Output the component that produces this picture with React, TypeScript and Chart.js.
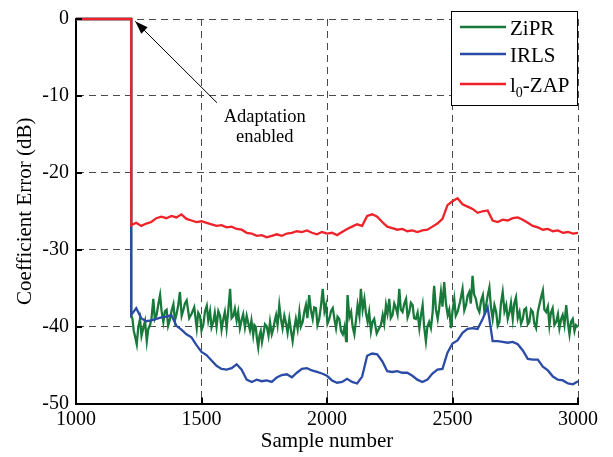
import { useEffect, useRef } from "react";
import { Chart, registerables } from "chart.js";

Chart.register(...registerables);

const FONT = "'Liberation Serif', 'Times New Roman', serif";

const X_MIN = 1000;
const X_MAX = 3000;
const X_STEP = 500;
const Y_MIN = -50;
const Y_MAX = 0;
const Y_STEP = 10;

const X_TITLE = "Sample number";
const Y_TITLE = "Coefficient Error (dB)";

// Before adaptation is enabled every algorithm sits at 0 dB
const PRE_SAMPLES = [1000, 1220];
const PRE_VALUES = [0, 0];

// IRLS and l0-ZAP are read every 20 samples from 1220 to 3000
const GRID_SAMPLES = Array.from({ length: 90 }, (_, i) => 1220 + 20 * i);

const ZAP_VALUES = [
  -26.8, -26.5, -26.9, -26.6, -26.4, -25.9, -25.7, -25.9, -25.6, -25.8,
  -25.4, -26.0, -26.2, -26.4, -26.3, -26.5, -26.7, -26.9, -26.8, -27.1,
  -27.0, -27.3, -27.4, -27.8, -27.9, -28.2, -28.1, -28.4, -28.2, -28.0,
  -28.2, -27.9, -27.8, -27.6, -27.7, -27.5, -27.8, -28.0, -27.7, -27.9,
  -27.8, -28.1, -27.7, -27.3, -27.0, -26.7, -26.9, -25.6, -25.4, -25.7,
  -26.4, -27.0, -27.2, -27.4, -27.3, -27.6, -27.5, -27.7, -27.5, -27.4,
  -27.0, -26.6, -26.0, -24.2, -23.7, -23.3, -24.1, -24.4, -24.7, -25.2,
  -25.0, -24.9, -26.2, -26.4, -26.1, -26.2, -25.9, -25.8, -26.1, -26.5,
  -26.9, -27.1, -27.4, -27.3, -27.6, -27.5, -27.8, -27.7, -27.9, -27.8,
];

const IRLS_VALUES = [
  -38.5, -37.6, -38.9, -39.3, -39.2, -39.0, -38.8, -38.7, -38.5, -39.9,
  -40.4, -41.0, -41.4, -42.4, -43.3, -43.7, -44.4, -45.1, -45.5, -45.6,
  -45.4, -44.9, -45.6, -46.9, -47.2, -46.9, -47.1, -47.0, -47.2, -46.6,
  -46.3, -46.2, -46.6, -46.0, -45.5, -45.4, -45.7, -45.9, -46.1, -46.4,
  -47.0, -47.3, -47.2, -46.8, -47.2, -47.4, -46.5, -43.8, -43.5, -43.6,
  -44.5, -45.8, -45.9, -45.8, -46.0, -46.0, -46.4, -46.9, -47.2, -46.9,
  -46.1, -45.6, -45.5, -43.4, -42.2, -41.8, -40.8, -40.3, -40.2, -40.3,
  -39.0, -37.5, -41.9, -41.9, -42.0, -42.1, -42.0, -42.3, -43.1, -44.2,
  -44.3, -44.3, -45.2, -45.7, -46.5, -46.9, -47.0, -47.4, -47.5, -47.1,
];

// ZiPR is noisy: [sample, dB] read at its visible peaks, dips and between them
const ZIPR_READINGS: [number, number][] = [
  [1220, -38.5], [1225, -39.0], [1230, -40.5], [1236, -41.4], [1242, -42.3], [1248, -40.1],
  [1255, -39.0], [1261, -41.2], [1268, -40.2], [1275, -39.3], [1282, -41.9], [1288, -40.3],
  [1295, -39.8], [1301, -38.9], [1308, -36.4], [1314, -39.0], [1321, -38.5], [1328, -37.1],
  [1335, -35.9], [1341, -38.0], [1348, -39.4], [1354, -38.0], [1361, -37.8], [1367, -39.9],
  [1374, -39.1], [1381, -37.9], [1388, -37.1], [1394, -39.2], [1401, -38.3], [1407, -37.3],
  [1414, -35.5], [1421, -38.6], [1428, -37.8], [1434, -37.0], [1441, -36.6], [1451, -38.9],
  [1461, -38.3], [1471, -37.5], [1481, -40.2], [1487, -38.2], [1494, -38.6], [1500, -40.5],
  [1507, -39.8], [1514, -38.0], [1521, -37.3], [1527, -39.2], [1534, -38.0], [1540, -40.1],
  [1547, -39.4], [1553, -38.2], [1560, -40.0], [1567, -38.0], [1574, -38.6], [1580, -40.4],
  [1587, -39.0], [1593, -38.1], [1600, -40.2], [1607, -37.8], [1614, -35.1], [1620, -38.9],
  [1627, -38.6], [1633, -37.7], [1640, -39.2], [1646, -38.1], [1653, -40.2], [1660, -39.1],
  [1666, -38.4], [1673, -40.1], [1680, -38.6], [1686, -39.5], [1693, -40.5], [1699, -39.2],
  [1706, -41.1], [1711, -39.8], [1716, -40.0], [1721, -41.6], [1726, -42.7], [1731, -41.2],
  [1736, -40.6], [1741, -42.0], [1746, -41.1], [1753, -39.7], [1760, -40.0], [1767, -41.2],
  [1773, -39.4], [1780, -41.0], [1786, -40.3], [1792, -39.2], [1797, -38.5], [1803, -39.8],
  [1810, -37.2], [1816, -38.9], [1823, -40.2], [1830, -38.6], [1837, -39.6], [1843, -40.8],
  [1850, -39.0], [1856, -40.4], [1863, -41.9], [1870, -40.2], [1876, -39.0], [1883, -40.3],
  [1890, -38.1], [1896, -40.0], [1903, -39.4], [1910, -38.0], [1916, -37.2], [1922, -38.9],
  [1929, -35.9], [1936, -37.9], [1943, -39.0], [1949, -37.5], [1956, -37.6], [1962, -39.8],
  [1969, -39.0], [1976, -37.3], [1983, -35.1], [1990, -38.0], [1996, -37.2], [2002, -39.6],
  [2009, -39.0], [2016, -38.0], [2023, -37.6], [2030, -39.1], [2036, -40.2], [2042, -38.7],
  [2049, -39.0], [2056, -40.6], [2063, -41.0], [2070, -40.0], [2076, -41.9], [2079, -38.9],
  [2082, -35.9], [2089, -38.8], [2096, -38.1], [2102, -40.0], [2109, -41.0], [2116, -39.0],
  [2122, -37.2], [2129, -38.6], [2135, -35.1], [2142, -37.8], [2149, -36.4], [2155, -38.2],
  [2162, -39.4], [2168, -38.1], [2175, -40.6], [2181, -39.4], [2188, -39.0], [2198, -40.9],
  [2208, -40.2], [2215, -39.8], [2222, -38.5], [2228, -39.6], [2235, -37.2], [2241, -38.3],
  [2248, -36.4], [2254, -38.9], [2261, -38.5], [2268, -37.0], [2275, -37.6], [2281, -38.4],
  [2288, -35.1], [2294, -37.8], [2301, -38.1], [2308, -37.0], [2315, -36.4], [2321, -38.8],
  [2328, -38.1], [2334, -36.9], [2341, -37.2], [2347, -38.9], [2354, -39.0], [2361, -38.2],
  [2368, -40.2], [2374, -38.6], [2381, -37.2], [2387, -40.0], [2394, -41.9], [2400, -40.0],
  [2407, -39.4], [2414, -40.2], [2421, -38.1], [2424, -36.0], [2427, -34.7], [2434, -37.8],
  [2441, -39.0], [2447, -37.6], [2454, -35.5], [2460, -37.4], [2467, -34.2], [2474, -37.0],
  [2481, -38.5], [2487, -37.8], [2494, -40.2], [2500, -38.0], [2507, -36.4], [2513, -38.6],
  [2520, -38.1], [2530, -36.8], [2540, -35.1], [2547, -37.9], [2554, -37.2], [2560, -36.0],
  [2567, -35.5], [2573, -37.0], [2580, -33.4], [2586, -35.8], [2593, -36.4], [2600, -37.6],
  [2607, -38.1], [2614, -36.6], [2621, -35.9], [2627, -38.0], [2634, -37.2], [2640, -36.0],
  [2647, -34.9], [2653, -37.4], [2660, -39.0], [2667, -37.2], [2674, -38.1], [2680, -39.9],
  [2687, -39.4], [2693, -37.0], [2700, -35.5], [2707, -38.0], [2714, -37.2], [2720, -39.0],
  [2727, -38.1], [2733, -36.9], [2740, -39.0], [2746, -37.0], [2753, -36.2], [2760, -38.9],
  [2767, -38.1], [2773, -39.6], [2780, -39.0], [2786, -37.8], [2793, -37.6], [2800, -39.7],
  [2806, -39.4], [2813, -37.8], [2820, -38.1], [2826, -39.6], [2833, -40.2], [2840, -38.1],
  [2846, -37.2], [2853, -36.2], [2860, -35.3], [2866, -37.8], [2873, -38.1], [2880, -37.4],
  [2886, -39.8], [2892, -38.2], [2899, -37.6], [2906, -39.8], [2913, -39.4], [2920, -38.4],
  [2926, -40.2], [2933, -39.0], [2939, -38.5], [2946, -39.8], [2953, -37.2], [2960, -39.6],
  [2966, -41.0], [2972, -39.4], [2979, -39.0], [2986, -40.6], [2992, -39.8], [3000, -40.1],
];
const ZIPR_SAMPLES = ZIPR_READINGS.map((r) => r[0]);
const ZIPR_VALUES = ZIPR_READINGS.map((r) => r[1]);

const SERIES_NAMES = ["ZiPR", "IRLS", "l0-ZAP"];
const SERIES_COLORS = ["#187a3a", "#2a4ba6", "#ee2228"];
// lower order is painted on top: l0-ZAP over IRLS over ZiPR
const SERIES_ORDER = [3, 2, 1];

const ANNOTATION_TIP = { x: 1236, y: -0.3 };
const ANNOTATION_TAIL = { x: 1562, y: -10.9 };
const ANNOTATION_LINES = ["Adaptation", "enabled"];
const ANNOTATION_TEXT = { x: 1752, y: -12.8 };

function toPoints(xs: number[], ys: number[]) {
  return xs.map((x, i) => ({ x, y: ys[i] }));
}

const overlayPlugin = {
  id: "overlay",
  afterDraw(chart: any) {
    const { ctx, chartArea: a, scales } = chart;
    const xs = scales.x;
    const ys = scales.y;
    ctx.save();

    // inward tick marks
    ctx.strokeStyle = "#000";
    ctx.lineWidth = 2;
    ctx.setLineDash([]);
    for (let v = X_MIN + X_STEP; v <= X_MAX; v += X_STEP) {
      const px = Math.round(xs.getPixelForValue(v));
      ctx.beginPath();
      ctx.moveTo(px, a.bottom);
      ctx.lineTo(px, a.bottom - 6);
      ctx.stroke();
    }
    for (let v = Y_MIN + Y_STEP; v <= Y_MAX; v += Y_STEP) {
      const py = Math.round(ys.getPixelForValue(v));
      ctx.beginPath();
      ctx.moveTo(a.left, py);
      ctx.lineTo(a.left + 6, py);
      ctx.stroke();
    }

    // axis titles
    ctx.fillStyle = "#000";
    ctx.font = `21px ${FONT}`;
    ctx.textAlign = "center";
    ctx.textBaseline = "middle";
    ctx.fillText(X_TITLE, (a.left + a.right) / 2, 441);
    ctx.save();
    ctx.translate(25, (a.top + a.bottom) / 2);
    ctx.rotate(-Math.PI / 2);
    ctx.fillText(Y_TITLE, 0, 0);
    ctx.restore();

    // annotation arrow
    const tx = xs.getPixelForValue(ANNOTATION_TIP.x);
    const ty = ys.getPixelForValue(ANNOTATION_TIP.y);
    const sx = xs.getPixelForValue(ANNOTATION_TAIL.x);
    const sy = ys.getPixelForValue(ANNOTATION_TAIL.y);
    ctx.strokeStyle = "#000";
    ctx.lineWidth = 1;
    ctx.beginPath();
    ctx.moveTo(sx, sy);
    ctx.lineTo(tx, ty);
    ctx.stroke();
    const ang = Math.atan2(ty - sy, tx - sx);
    const hl = 13;
    const hw = 4.5;
    const bx = tx - hl * Math.cos(ang);
    const by = ty - hl * Math.sin(ang);
    ctx.fillStyle = "#000";
    ctx.beginPath();
    ctx.moveTo(tx, ty);
    ctx.lineTo(bx + hw * Math.sin(ang), by - hw * Math.cos(ang));
    ctx.lineTo(bx - hw * Math.sin(ang), by + hw * Math.cos(ang));
    ctx.closePath();
    ctx.fill();

    ctx.font = `18.5px ${FONT}`;
    const atx = xs.getPixelForValue(ANNOTATION_TEXT.x);
    const aty = ys.getPixelForValue(ANNOTATION_TEXT.y);
    ANNOTATION_LINES.forEach((t, i) => ctx.fillText(t, atx, aty + i * 20));

    // legend
    const lx = 451;
    const lt = 11;
    const lw = a.right - lx;
    const lh = 95;
    ctx.fillStyle = "#fff";
    ctx.fillRect(lx, lt, lw, lh);
    ctx.strokeStyle = "#000";
    ctx.lineWidth = 1;
    ctx.strokeRect(lx + 0.5, lt + 0.5, lw - 1, lh - 1);
    const rows = [27, 54, 84];
    ctx.textAlign = "left";
    ctx.textBaseline = "alphabetic";
    SERIES_NAMES.forEach((name, i) => {
      const y = rows[i];
      ctx.strokeStyle = SERIES_COLORS[i];
      ctx.lineWidth = 2.3;
      ctx.beginPath();
      ctx.moveTo(460, y);
      ctx.lineTo(506, y);
      ctx.stroke();
      ctx.fillStyle = "#000";
      const base = y + 8;
      if (name.startsWith("l0")) {
        ctx.font = `21px ${FONT}`;
        ctx.fillText("l", 510, base);
        let w = ctx.measureText("l").width;
        ctx.font = `14px ${FONT}`;
        ctx.fillText("0", 510 + w, base + 5);
        w += ctx.measureText("0").width;
        ctx.font = `21px ${FONT}`;
        ctx.fillText(name.slice(2), 510 + w, base);
      } else {
        ctx.font = `21px ${FONT}`;
        ctx.fillText(name, 510, base);
      }
    });

    ctx.restore();
  },
};

export default function App() {
  const ref = useRef<HTMLCanvasElement>(null);

  useEffect(() => {
    document.body.style.margin = "0";
    const canvas = ref.current;
    if (!canvas) return;

    const seriesData = [
      [...toPoints(PRE_SAMPLES, PRE_VALUES), ...toPoints(ZIPR_SAMPLES, ZIPR_VALUES)],
      [...toPoints(PRE_SAMPLES, PRE_VALUES), ...toPoints(GRID_SAMPLES, IRLS_VALUES)],
      [...toPoints(PRE_SAMPLES, PRE_VALUES), ...toPoints(GRID_SAMPLES, ZAP_VALUES)],
    ];

    const chart = new Chart(canvas, {
      type: "line",
      data: {
        datasets: SERIES_NAMES.map((name, i) => ({
          label: name,
          data: seriesData[i],
          order: SERIES_ORDER[i],
          borderColor: SERIES_COLORS[i],
          backgroundColor: SERIES_COLORS[i],
          borderWidth: 2.3,
          pointRadius: 0,
          tension: 0,
          fill: false,
          clip: 4,
        })),
      },
      options: {
        animation: false,
        responsive: false,
        devicePixelRatio: 1,
        layout: { padding: { top: 12, right: 35, left: 0, bottom: 0 } },
        plugins: {
          legend: { display: false },
          tooltip: { enabled: false },
        },
        scales: {
          x: {
            type: "linear",
            min: X_MIN,
            max: X_MAX,
            ticks: {
              stepSize: X_STEP,
              color: "#000",
              font: { family: FONT, size: 20 },
              padding: 4,
              maxRotation: 0,
              callback: (v: any) => String(v),
            },
            grid: { color: "#4a4a4a", lineWidth: 1, drawTicks: false },
            border: { display: true, color: "#000", width: 2, dash: [7, 5] },
            afterFit: (s: any) => {
              s.height = 457 - 403.5;
            },
          },
          y: {
            type: "linear",
            min: Y_MIN,
            max: Y_MAX,
            ticks: {
              stepSize: Y_STEP,
              color: "#000",
              font: { family: FONT, size: 20 },
              padding: 7,
            },
            grid: { color: "#4a4a4a", lineWidth: 1, drawTicks: false },
            border: { display: true, color: "#000", width: 2, dash: [7, 5] },
            afterFit: (s: any) => {
              s.width = 76;
            },
          },
        },
      },
      plugins: [overlayPlugin],
    });

    return () => chart.destroy();
  }, []);

  return (
    <div style={{ width: 613, height: 457, background: "#fff" }}>
      <canvas ref={ref} width={613} height={457} style={{ display: "block" }} />
    </div>
  );
}
